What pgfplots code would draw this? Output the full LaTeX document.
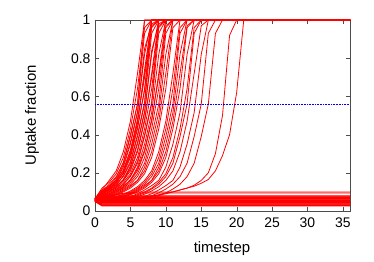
\documentclass[border=0pt]{standalone}
\usepackage{fontspec}
\setmainfont{Liberation Sans}
\usepackage{pgfplots}
\pgfplotsset{compat=1.18}
\pgfplotsset{rl/.style={red, line width=0.8pt, mark=none, line join=round}}
\begin{document}
\begin{tikzpicture}
\begin{axis}[
  width=255bp, height=191bp, scale only axis,
  xmin=0, xmax=36, ymin=0, ymax=1,
  xtick={0,5,...,35}, ytick={0,0.2,0.4,0.6,0.8,1},
  yticklabels={0,0.2,0.4,0.6,0.8,1},
  /pgf/number format/assume math mode=true,
  tick label style={font=\fontsize{14}{14}\selectfont},
  xticklabel style={yshift=-3bp},
  yticklabel style={xshift=-1bp},
  label style={font=\fontsize{15}{15}\selectfont},
  xlabel={timestep}, ylabel={Uptake fraction},
  xlabel style={at={(axis description cs:0.498,-0.199)}, anchor=center},
  ylabel style={at={(axis description cs:-0.247,0.5)}, anchor=center},
  axis line style={gray!60!black},
  tick style={gray!60!black},
  tick align=inside,
  major tick length=4bp,
  clip=true,
]
% flat lines
\addplot[rl] coordinates {(0,0.05) (1,0.026) (36,0.026)};
\addplot[rl] coordinates {(0,0.05) (1,0.029) (36,0.029)};
\addplot[rl] coordinates {(0,0.05) (1,0.032) (36,0.032)};
\addplot[rl] coordinates {(0,0.05) (1,0.035) (36,0.035)};
\addplot[rl] coordinates {(0,0.05) (1,0.038) (36,0.038)};
\addplot[rl] coordinates {(0,0.05) (1,0.041) (36,0.041)};
\addplot[rl] coordinates {(0,0.05) (1,0.044) (36,0.044)};
\addplot[rl] coordinates {(0,0.05) (1,0.047) (36,0.047)};
\addplot[rl] coordinates {(0,0.052) (1,0.050) (36,0.050)};
\addplot[rl] coordinates {(0,0.053) (1,0.053) (36,0.053)};
\addplot[rl] coordinates {(0,0.055) (1,0.056) (36,0.056)};
\addplot[rl] coordinates {(0,0.057) (1,0.059) (36,0.059)};
\addplot[rl] coordinates {(0,0.06) (1,0.062) (36,0.062)};
\addplot[rl] coordinates {(0,0.061) (2,0.065) (36,0.065)};
\addplot[rl] coordinates {(0,0.062) (2,0.068) (36,0.068)};
\addplot[rl] coordinates {(0,0.064) (2,0.071) (36,0.071)};
\addplot[rl] coordinates {(0,0.065) (2,0.074) (36,0.074)};
\addplot[rl] coordinates {(0,0.066) (3,0.077) (36,0.077)};
\addplot[rl] coordinates {(0,0.066) (3,0.08) (36,0.08)};
\addplot[rl] coordinates {(0,0.066) (2,0.08) (4,0.09) (6,0.094) (36,0.094)};
\addplot[rl] coordinates {(0,0.067) (2,0.082) (4,0.093) (6,0.099) (36,0.099)};
% cluster 1
\addplot[rl] coordinates {(0,0.065) (1,0.11) (2,0.16) (3,0.21) (4,0.31) (5,0.47) (6,0.72) (7,1) (36,1)};
\addplot[rl] coordinates {(0,0.065) (1,0.12) (2,0.15) (3,0.195) (4,0.28) (5,0.43) (6,0.64) (7,0.96) (8,1) (36,1)};
\addplot[rl] coordinates {(0,0.065) (1,0.1) (2,0.14) (3,0.18) (4,0.25) (5,0.39) (6,0.56) (7,0.93) (8,1) (36,1)};
\addplot[rl] coordinates {(0,0.06) (1,0.095) (2,0.13) (3,0.175) (4,0.255) (5,0.40) (6,0.56) (7,1) (36,1)};
\addplot[rl] coordinates {(0,0.065) (1,0.11) (2,0.133) (3,0.16) (4,0.23) (5,0.35) (6,0.515) (7,0.82) (8,1) (36,1)};
\addplot[rl] coordinates {(0,0.06) (1,0.1) (2,0.125) (3,0.165) (4,0.24) (5,0.36) (6,0.52) (7,0.85) (8,0.98) (9,1) (36,1)};
\addplot[rl] coordinates {(0,0.065) (1,0.105) (2,0.127) (3,0.16) (4,0.21) (5,0.31) (6,0.47) (7,0.72) (8,1) (36,1)};
\addplot[rl] coordinates {(0,0.06) (1,0.095) (2,0.12) (3,0.155) (4,0.215) (5,0.32) (6,0.48) (7,0.70) (8,0.97) (9,1) (36,1)};
\addplot[rl] coordinates {(0,0.062) (1,0.085) (2,0.115) (3,0.15) (4,0.2) (5,0.30) (6,0.46) (7,0.74) (8,1) (36,1)};
\addplot[rl] coordinates {(0,0.065) (1,0.1) (2,0.12) (3,0.15) (4,0.195) (5,0.28) (6,0.43) (7,0.64) (8,0.96) (9,1) (36,1)};
\addplot[rl] coordinates {(0,0.06) (1,0.09) (2,0.115) (3,0.145) (4,0.2) (5,0.29) (6,0.44) (7,0.63) (8,1) (36,1)};
\addplot[rl] coordinates {(0,0.065) (1,0.095) (2,0.115) (3,0.14) (4,0.18) (5,0.25) (6,0.39) (7,0.56) (8,0.93) (9,1) (36,1)};
\addplot[rl] coordinates {(0,0.06) (1,0.085) (2,0.11) (3,0.135) (4,0.185) (5,0.26) (6,0.40) (7,0.57) (8,1) (36,1)};
\addplot[rl] coordinates {(0,0.065) (1,0.09) (2,0.11) (3,0.133) (4,0.16) (5,0.23) (6,0.35) (7,0.515) (8,0.82) (9,1) (36,1)};
\addplot[rl] coordinates {(0,0.06) (1,0.08) (2,0.1) (3,0.125) (4,0.165) (5,0.235) (6,0.36) (7,0.52) (8,0.84) (9,0.98) (10,1) (36,1)};
\addplot[rl] coordinates {(0,0.065) (1,0.088) (2,0.105) (3,0.127) (4,0.16) (5,0.21) (6,0.31) (7,0.47) (8,0.72) (9,1) (36,1)};
\addplot[rl] coordinates {(0,0.058) (1,0.08) (2,0.1) (3,0.125) (4,0.165) (5,0.22) (6,0.32) (7,0.48) (8,0.70) (9,0.97) (10,1) (36,1)};
\addplot[rl] coordinates {(0,0.065) (1,0.085) (2,0.1) (3,0.12) (4,0.15) (5,0.195) (6,0.28) (7,0.43) (8,0.64) (9,0.96) (10,1) (36,1)};
\addplot[rl] coordinates {(0,0.065) (1,0.08) (2,0.095) (3,0.115) (4,0.14) (5,0.18) (6,0.25) (7,0.39) (8,0.56) (9,0.93) (10,1) (36,1)};
\addplot[rl] coordinates {(0,0.06) (1,0.075) (2,0.09) (3,0.11) (4,0.14) (5,0.185) (6,0.26) (7,0.40) (8,0.57) (9,1) (36,1)};
\addplot[rl] coordinates {(0,0.063) (1,0.077) (2,0.09) (3,0.11) (4,0.133) (5,0.16) (6,0.23) (7,0.35) (8,0.515) (9,0.82) (10,1) (36,1)};
\addplot[rl] coordinates {(0,0.062) (1,0.075) (2,0.088) (3,0.105) (4,0.127) (5,0.16) (6,0.21) (7,0.31) (8,0.47) (9,0.72) (10,1) (36,1)};
\addplot[rl] coordinates {(0,0.058) (1,0.07) (2,0.085) (3,0.1) (4,0.125) (5,0.165) (6,0.22) (7,0.32) (8,0.48) (9,0.70) (10,0.97) (11,1) (36,1)};
\addplot[rl] coordinates {(0,0.061) (1,0.073) (2,0.085) (3,0.1) (4,0.12) (5,0.15) (6,0.195) (7,0.28) (8,0.43) (9,0.64) (10,0.96) (11,1) (36,1)};
\addplot[rl] coordinates {(0,0.06) (1,0.07) (2,0.08) (3,0.095) (4,0.115) (5,0.14) (6,0.18) (7,0.25) (8,0.39) (9,0.56) (10,0.93) (11,1) (36,1)};
\addplot[rl] coordinates {(0,0.063) (1,0.068) (2,0.077) (3,0.09) (4,0.11) (5,0.133) (6,0.16) (7,0.23) (8,0.35) (9,0.515) (10,0.82) (11,1) (36,1)};
\addplot[rl] coordinates {(0,0.062) (1,0.067) (2,0.075) (3,0.088) (4,0.105) (5,0.127) (6,0.16) (7,0.21) (8,0.31) (9,0.47) (10,0.72) (11,1) (36,1)};
\addplot[rl] coordinates {(0,0.061) (1,0.066) (2,0.073) (3,0.085) (4,0.1) (5,0.12) (6,0.15) (7,0.195) (8,0.28) (9,0.43) (10,0.64) (11,0.96) (12,1) (36,1)};
% cluster 2
\addplot[rl] coordinates {(0,0.058) (1,0.062) (2,0.067) (3,0.075) (4,0.088) (5,0.105) (6,0.127) (7,0.16) (8,0.21) (9,0.31) (10,0.47) (11,0.72) (12,1) (36,1)};
\addplot[rl] coordinates {(0,0.057) (1,0.061) (2,0.066) (3,0.073) (4,0.085) (5,0.1) (6,0.12) (7,0.15) (8,0.195) (9,0.28) (10,0.43) (11,0.64) (12,0.96) (13,1) (36,1)};
\addplot[rl] coordinates {(0,0.056) (1,0.06) (2,0.065) (3,0.07) (4,0.08) (5,0.095) (6,0.115) (7,0.14) (8,0.18) (9,0.25) (10,0.39) (11,0.56) (12,0.93) (13,1) (36,1)};
\addplot[rl] coordinates {(0,0.056) (1,0.058) (2,0.063) (3,0.068) (4,0.077) (5,0.09) (6,0.11) (7,0.133) (8,0.16) (9,0.23) (10,0.35) (11,0.515) (12,0.82) (13,1) (36,1)};
\addplot[rl] coordinates {(0,0.055) (1,0.057) (2,0.062) (3,0.067) (4,0.075) (5,0.088) (6,0.105) (7,0.127) (8,0.16) (9,0.21) (10,0.31) (11,0.47) (12,0.72) (13,0.97) (14,1) (36,1)};
\addplot[rl] coordinates {(0,0.055) (1,0.057) (2,0.061) (3,0.066) (4,0.073) (5,0.085) (6,0.1) (7,0.12) (8,0.15) (9,0.195) (10,0.28) (11,0.43) (12,0.64) (13,0.96) (14,1) (36,1)};
\addplot[rl] coordinates {(0,0.055) (1,0.056) (2,0.058) (3,0.063) (4,0.068) (5,0.077) (6,0.09) (7,0.11) (8,0.133) (9,0.16) (10,0.23) (11,0.35) (12,0.515) (13,0.82) (14,1) (36,1)};
\addplot[rl] coordinates {(0,0.055) (1,0.056) (2,0.058) (3,0.061) (4,0.066) (5,0.073) (6,0.085) (7,0.1) (8,0.12) (9,0.15) (10,0.195) (11,0.28) (12,0.43) (13,0.64) (14,0.96) (15,1) (36,1)};
\addplot[rl] coordinates {(0,0.055) (1,0.056) (2,0.057) (3,0.06) (4,0.065) (5,0.07) (6,0.08) (7,0.095) (8,0.115) (9,0.14) (10,0.18) (11,0.25) (12,0.39) (13,0.56) (14,0.93) (15,1) (36,1)};
% cluster 3
\addplot[rl] coordinates {(0,0.055) (1,0.056) (2,0.057) (3,0.058) (4,0.062) (5,0.067) (6,0.075) (7,0.088) (8,0.105) (9,0.127) (10,0.16) (11,0.21) (12,0.31) (13,0.47) (14,0.72) (15,0.97) (16,1) (36,1)};
\addplot[rl] coordinates {(0,0.055) (1,0.055) (2,0.056) (3,0.057) (4,0.059) (5,0.063) (6,0.068) (7,0.077) (8,0.09) (9,0.11) (10,0.133) (11,0.16) (12,0.23) (13,0.35) (14,0.515) (15,0.82) (16,1) (36,1)};
\addplot[rl] coordinates {(0,0.055) (1,0.055) (2,0.056) (3,0.057) (4,0.058) (5,0.06) (6,0.065) (7,0.07) (8,0.08) (9,0.095) (10,0.115) (11,0.14) (12,0.18) (13,0.25) (14,0.39) (15,0.56) (16,0.93) (17,1) (36,1)};
\addplot[rl] coordinates {(0,0.055) (1,0.055) (2,0.056) (3,0.057) (4,0.058) (5,0.059) (6,0.06) (7,0.065) (8,0.07) (9,0.08) (10,0.095) (11,0.115) (12,0.14) (13,0.18) (14,0.25) (15,0.39) (16,0.56) (17,0.93) (18,1) (36,1)};
% late
\addplot[rl] coordinates {(0,0.055) (2,0.058) (4,0.062) (6,0.068) (8,0.078) (9,0.085) (10,0.095) (11,0.1) (12,0.11) (13,0.12) (14,0.135) (15,0.16) (16,0.2) (17,0.3) (18,0.5) (19,0.92) (20,1) (36,1)};
\addplot[rl] coordinates {(0,0.055) (2,0.058) (4,0.062) (6,0.068) (8,0.078) (9,0.084) (10,0.09) (11,0.1) (12,0.11) (13,0.12) (14,0.13) (15,0.145) (16,0.165) (17,0.21) (18,0.29) (19,0.40) (20,0.62) (21,1) (36,1)};
% threshold
\addplot[blue, densely dotted, line width=0.6pt] coordinates {(0,0.56) (36,0.56)};
\coordinate (sw) at (rel axis cs:0,0);
\end{axis}
\pgfresetboundingbox
\useasboundingbox ([xshift=-95bp,yshift=-51bp]sw) rectangle ([xshift=279bp,yshift=211bp]sw);
\end{tikzpicture}
\end{document}
